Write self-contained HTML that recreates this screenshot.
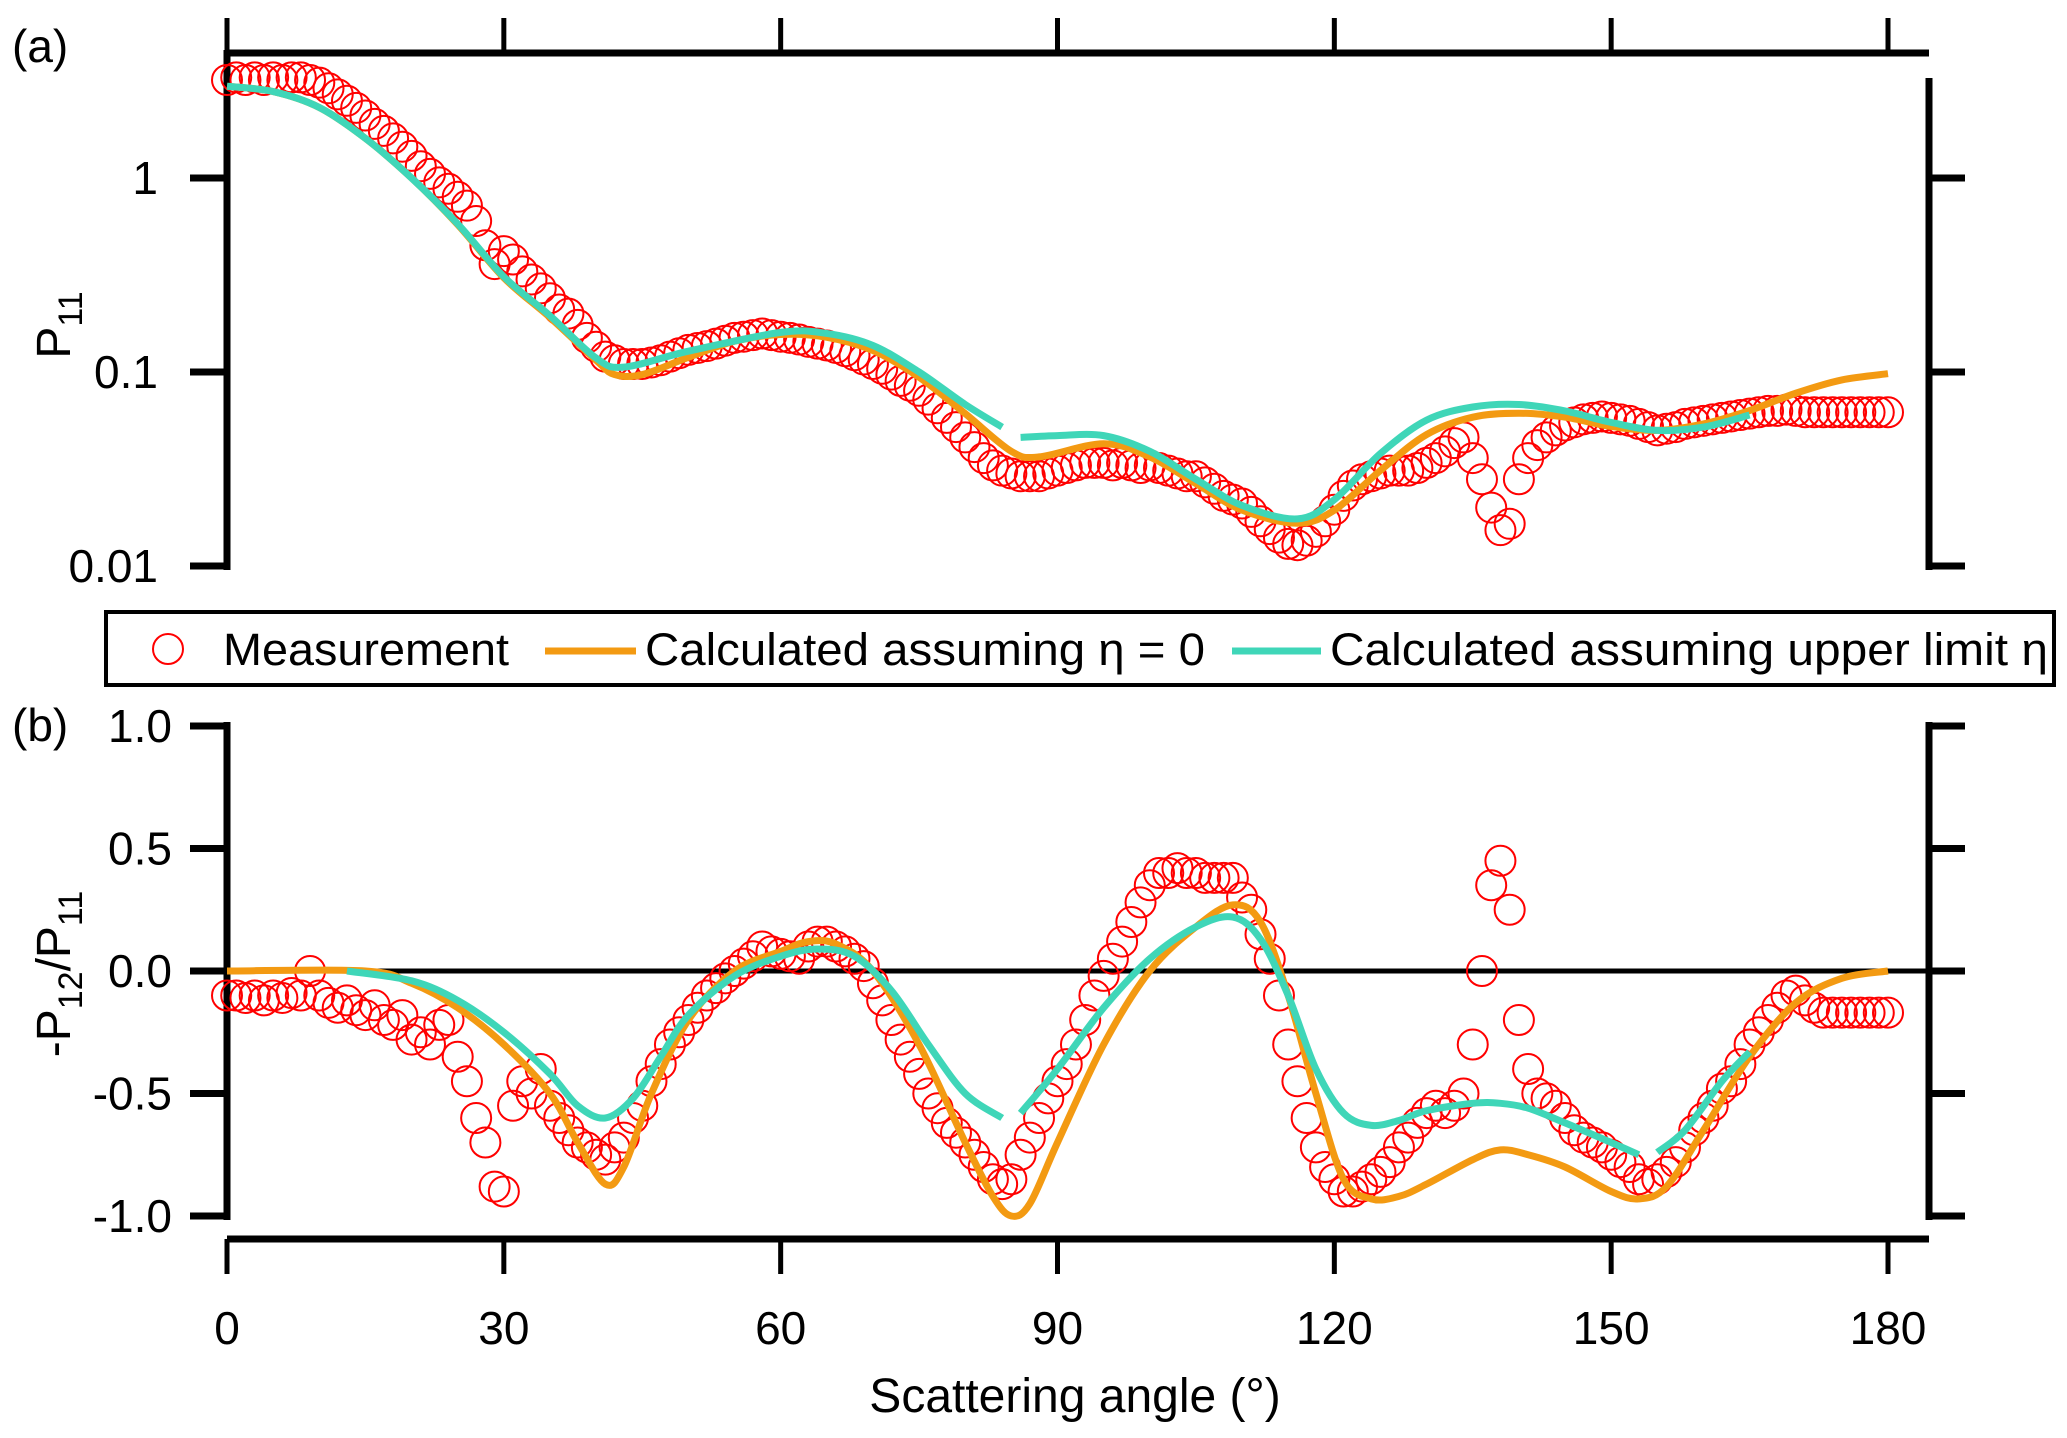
<!DOCTYPE html>
<html><head><meta charset="utf-8"><style>
html,body{margin:0;padding:0;background:#fff;}
svg{display:block;font-family:"Liberation Sans",Arial,sans-serif;}
</style></head><body>
<svg id="chart" width="2067" height="1438" viewBox="0 0 2067 1438" xmlns="http://www.w3.org/2000/svg">
<g id="axes"></g>
<g id="marks"></g>
<g id="legend">
  <rect x="106" y="612" width="1948" height="73" fill="#fff" stroke="#000" stroke-width="4"/>
  <circle cx="168" cy="649" r="15" fill="none" stroke="#ff0000" stroke-width="2"/>
  <text x="223" y="665" font-size="45" textLength="286" lengthAdjust="spacingAndGlyphs">Measurement</text>
  <line x1="545" y1="651" x2="636" y2="651" stroke="#f39a12" stroke-width="7"/>
  <text x="645" y="665" font-size="45" textLength="560" lengthAdjust="spacingAndGlyphs">Calculated assuming η = 0</text>
  <line x1="1232" y1="651" x2="1321" y2="651" stroke="#3fd6b8" stroke-width="7"/>
  <text x="1330" y="665" font-size="45" textLength="718" lengthAdjust="spacingAndGlyphs">Calculated assuming upper limit η</text>
</g>
</svg>
<script>
// ---- Data ----
const xTicks = [0, 30, 60, 90, 120, 150, 180];
const p11Ticks = [1, 0.1, 0.01];
const p11TickLabels = ["1", "0.1", "0.01"];
const p12Ticks = [1.0, 0.5, 0.0, -0.5, -1.0];
const p12TickLabels = ["1.0", "0.5", "0.0", "-0.5", "-1.0"];

const measAngles = [0,1,2,3,4,5,6,7,8,9,10,11,12,13,14,15,16,17,18,19,20,21,22,23,24,25,26,27,28,29,30,31,32,33,34,35,36,37,38,39,40,41,42,43,44,45,46,47,48,49,50,51,52,53,54,55,56,57,58,59,60,61,62,63,64,65,66,67,68,69,70,71,72,73,74,75,76,77,78,79,80,81,82,83,84,85,86,87,88,89,90,91,92,93,94,95,96,97,98,99,100,101,102,103,104,105,106,107,108,109,110,111,112,113,114,115,116,117,118,119,120,121,122,123,124,125,126,127,128,129,130,131,132,133,134,135,136,137,138,139,140,141,142,143,144,145,146,147,148,149,150,151,152,153,154,155,156,157,158,159,160,161,162,163,164,165,166,167,168,169,170,171,172,173,174,175,176,177,178,179,180];
const measP11 = [3.2,3.3,3.2,3.3,3.2,3.3,3.2,3.3,3.3,3.2,3.1,2.9,2.7,2.5,2.3,2.1,1.9,1.75,1.6,1.45,1.3,1.15,1.05,0.95,0.88,0.8,0.72,0.6,0.45,0.36,0.42,0.38,0.33,0.3,0.27,0.24,0.21,0.2,0.175,0.15,0.135,0.12,0.115,0.11,0.11,0.11,0.112,0.115,0.12,0.125,0.13,0.133,0.136,0.14,0.145,0.15,0.152,0.155,0.158,0.155,0.152,0.15,0.147,0.143,0.14,0.137,0.133,0.128,0.122,0.116,0.11,0.104,0.097,0.09,0.085,0.08,0.072,0.065,0.058,0.052,0.046,0.041,0.036,0.033,0.031,0.03,0.029,0.029,0.029,0.03,0.031,0.032,0.033,0.034,0.034,0.034,0.033,0.034,0.033,0.032,0.033,0.032,0.031,0.03,0.029,0.029,0.027,0.025,0.023,0.022,0.021,0.019,0.017,0.0155,0.014,0.013,0.0128,0.0135,0.015,0.017,0.0195,0.023,0.026,0.028,0.029,0.03,0.031,0.031,0.031,0.032,0.034,0.036,0.039,0.043,0.046,0.036,0.028,0.02,0.0153,0.0165,0.028,0.036,0.042,0.046,0.05,0.053,0.055,0.057,0.058,0.059,0.058,0.057,0.056,0.054,0.052,0.05,0.051,0.052,0.054,0.055,0.056,0.057,0.058,0.059,0.06,0.061,0.062,0.063,0.063,0.064,0.063,0.062,0.062,0.062,0.062,0.062,0.062,0.062,0.062,0.062,0.062];
const measP12 = [-0.1,-0.1,-0.11,-0.1,-0.12,-0.1,-0.11,-0.09,-0.1,0.0,-0.1,-0.13,-0.15,-0.12,-0.16,-0.18,-0.14,-0.2,-0.22,-0.18,-0.28,-0.25,-0.3,-0.22,-0.2,-0.35,-0.45,-0.6,-0.7,-0.88,-0.9,-0.55,-0.45,-0.5,-0.4,-0.55,-0.6,-0.65,-0.7,-0.72,-0.75,-0.77,-0.72,-0.68,-0.6,-0.55,-0.45,-0.38,-0.3,-0.25,-0.2,-0.15,-0.1,-0.07,-0.03,0.0,0.03,0.06,0.1,0.08,0.07,0.06,0.05,0.1,0.12,0.12,0.1,0.08,0.05,0.02,-0.05,-0.12,-0.2,-0.28,-0.35,-0.42,-0.5,-0.56,-0.62,-0.66,-0.7,-0.75,-0.8,-0.85,-0.87,-0.85,-0.75,-0.68,-0.6,-0.52,-0.45,-0.38,-0.3,-0.2,-0.1,-0.02,0.05,0.12,0.2,0.28,0.35,0.4,0.4,0.42,0.4,0.4,0.38,0.38,0.38,0.38,0.3,0.25,0.15,0.05,-0.1,-0.3,-0.45,-0.6,-0.72,-0.8,-0.85,-0.9,-0.9,-0.88,-0.85,-0.82,-0.78,-0.72,-0.68,-0.62,-0.58,-0.55,-0.58,-0.55,-0.5,-0.3,0.0,0.35,0.45,0.25,-0.2,-0.4,-0.5,-0.52,-0.55,-0.6,-0.65,-0.68,-0.7,-0.72,-0.75,-0.78,-0.8,-0.85,-0.87,-0.85,-0.82,-0.78,-0.72,-0.65,-0.6,-0.55,-0.48,-0.45,-0.38,-0.3,-0.25,-0.2,-0.15,-0.1,-0.08,-0.12,-0.15,-0.17,-0.17,-0.17,-0.17,-0.17,-0.17,-0.17,-0.17];

const eta0AnglesA = [0,5,10,15,20,25,30,35,40,42,45,50,55,60,65,70,75,80,85,88,95,100,105,110,116,120,125,130,135,140,145,150,155,160,165,170,175,180];
const eta0P11 = [2.97,2.79,2.31,1.6,1.0,0.575,0.306,0.191,0.115,0.097,0.097,0.119,0.144,0.156,0.151,0.129,0.094,0.061,0.039,0.0365,0.0427,0.0365,0.0266,0.0194,0.0166,0.0194,0.0311,0.0476,0.0585,0.0613,0.0585,0.0524,0.050,0.054,0.0633,0.0777,0.091,0.098];
const upperAnglesA1 = [0,5,10,15,20,25,30,35,40,43,50,60,65,70,75,80,84];
const upperP11a = [2.97,2.79,2.31,1.6,1.0,0.58,0.31,0.195,0.118,0.106,0.128,0.16,0.158,0.137,0.1,0.068,0.052];
const upperAnglesA2 = [86,90,95,100,105,110,116,120,125,130,135,140,145,150,155,160,165];
const upperP11b = [0.046,0.047,0.047,0.039,0.028,0.0205,0.0175,0.022,0.038,0.0565,0.066,0.068,0.063,0.055,0.05,0.052,0.06];

const eta0AnglesB = [0,15,20,25,30,35,38,41,43,46,50,55,60,63,66,70,75,80,83,85,87,90,95,100,105,109,112,115,118,121,124,127,130,135,138,141,145,150,153,156,160,165,170,175,180];
const eta0P12 = [0,0,-0.05,-0.15,-0.3,-0.5,-0.7,-0.87,-0.8,-0.5,-0.2,0.0,0.08,0.12,0.11,0.0,-0.3,-0.7,-0.92,-1.0,-0.95,-0.7,-0.3,0.0,0.18,0.27,0.2,-0.1,-0.5,-0.85,-0.93,-0.92,-0.87,-0.77,-0.73,-0.75,-0.8,-0.9,-0.93,-0.88,-0.65,-0.35,-0.13,-0.03,0];
const upperAnglesB1 = [13,20,25,30,35,38,41,44,47,50,55,60,64,68,72,76,80,84];
const upperP12a = [0,-0.04,-0.12,-0.25,-0.42,-0.55,-0.6,-0.52,-0.35,-0.18,-0.02,0.06,0.09,0.06,-0.08,-0.3,-0.5,-0.6];
const upperAnglesB2 = [86,90,95,100,105,109,112,115,118,121,124,127,130,135,138,141,145,150,153];
const upperP12b = [-0.58,-0.4,-0.15,0.05,0.18,0.22,0.13,-0.1,-0.4,-0.58,-0.63,-0.61,-0.57,-0.54,-0.54,-0.56,-0.62,-0.7,-0.75];
const upperAnglesB3 = [155,158,162,165];
const upperP12c = [-0.74,-0.65,-0.45,-0.33];

// ---- Scales ----
const X0 = 227, X1 = 1888, XR = 1929;
function xs(a){ return X0 + (a/180)*(X1-X0); }
function ysTop(v){ return 372 - (Math.log10(v)+1)*194; }
function ysBot(v){ return 971 - v*245; }

const NS = "http://www.w3.org/2000/svg";
const axes = document.getElementById('axes');
const marks = document.getElementById('marks');
function mk(tag, attrs, parent){ const e=document.createElementNS(NS,tag); for(const k in attrs) e.setAttribute(k, attrs[k]); parent.appendChild(e); return e; }

function smoothPath(xsArr, ysArr){
  const p = xsArr.map((x,i)=>[x, ysArr[i]]);
  let d = `M${p[0][0]},${p[0][1]}`;
  for(let i=0;i<p.length-1;i++){
    const p0=p[Math.max(0,i-1)], p1=p[i], p2=p[i+1], p3=p[Math.min(p.length-1,i+2)];
    const c1x=p1[0]+(p2[0]-p0[0])/6, c1y=p1[1]+(p2[1]-p0[1])/6;
    const c2x=p2[0]-(p3[0]-p1[0])/6, c2y=p2[1]-(p3[1]-p1[1])/6;
    d += ` C${c1x},${c1y} ${c2x},${c2y} ${p2[0]},${p2[1]}`;
  }
  return d;
}

const AX = {stroke:'#000','stroke-width':7,'stroke-linecap':'butt'};
let e;
e = mk('line',Object.assign({x1:X0,y1:53,x2:XR,y2:53},AX),axes);
 
e = mk('line',Object.assign({x1:X0,y1:50,x2:X0,y2:570},AX),axes);
 
e = mk('line',Object.assign({x1:XR,y1:78,x2:XR,y2:570},AX),axes);
 
xTicks.forEach(t=>{
  const l = mk('line',Object.assign({x1:xs(t),y1:18,x2:xs(t),y2:53},AX,{'stroke-width':5}),axes);
   
});
p11Ticks.forEach((t,i)=>{
  const y = ysTop(t);
  const l = mk('line',Object.assign({x1:190,y1:y,x2:X0,y2:y},AX),axes);
   
  const r = mk('line',Object.assign({x1:XR,y1:y,x2:XR+36,y2:y},AX),axes);
   
  const tx = mk('text',{x:158,y:y+16,'font-size':46,'text-anchor':'end'},axes);
  tx.textContent = p11TickLabels[i];
   
});
e = mk('line',Object.assign({x1:X0,y1:722,x2:X0,y2:1220},AX),axes);
 
e = mk('line',Object.assign({x1:XR,y1:722,x2:XR,y2:1220},AX),axes);
 
e = mk('line',Object.assign({x1:X0,y1:1239,x2:XR,y2:1239},AX),axes);
 
e = mk('line',Object.assign({x1:X0,y1:ysBot(0),x2:XR,y2:ysBot(0)},AX,{'stroke-width':5}),axes);
 
xTicks.forEach(t=>{
  const l = mk('line',Object.assign({x1:xs(t),y1:1239,x2:xs(t),y2:1274},AX,{'stroke-width':5}),axes);
   
  const tx = mk('text',{x:xs(t),y:1344,'font-size':46,'text-anchor':'middle'},axes);
  tx.textContent = String(t);
   
});
p12Ticks.forEach((t,i)=>{
  const y = ysBot(t);
  const l = mk('line',Object.assign({x1:190,y1:y,x2:X0,y2:y},AX),axes);
   
  const r = mk('line',Object.assign({x1:XR,y1:y,x2:XR+36,y2:y},AX),axes);
   
  const tx = mk('text',{x:172,y:y+16,'font-size':46,'text-anchor':'end'},axes);
  tx.textContent = p12TickLabels[i];
   
});
e = mk('text',{x:12,y:62,'font-size':46},axes); e.textContent='(a)';
 
e = mk('text',{x:12,y:741,'font-size':46},axes); e.textContent='(b)';
 
e = mk('text',{x:1075,y:1412,'font-size':48,'text-anchor':'middle'},axes); e.textContent='Scattering angle (°)';
 
e = mk('text',{x:0,y:0,'font-size':48,'text-anchor':'middle',transform:'translate(70,325) rotate(-90)'},axes);
e.innerHTML='P<tspan font-size="34" dy="12">11</tspan>';
 
e = mk('text',{x:0,y:0,'font-size':48,'text-anchor':'middle',transform:'translate(70,974) rotate(-90)'},axes);
e.innerHTML='-P<tspan font-size="34" dy="12">12</tspan><tspan dy="-12">/P</tspan><tspan font-size="34" dy="12">11</tspan>';
 

// ---- Marks ----
measAngles.forEach((a,i)=>{
  const c = mk('circle',{cx:xs(a),cy:ysTop(measP11[i]),r:15,fill:'none',stroke:'#ff0000','stroke-width':2},marks);
   
});
measAngles.forEach((a,i)=>{
  const c = mk('circle',{cx:xs(a),cy:ysBot(measP12[i]),r:15,fill:'none',stroke:'#ff0000','stroke-width':2},marks);
   
});
function line(angles, vals, yf, color, name){
  const p = mk('path',{d:smoothPath(angles.map(xs), vals.map(yf)),fill:'none',stroke:color,'stroke-width':7,'stroke-linejoin':'round'},marks);
  
  
}
line(eta0AnglesA, eta0P11, ysTop, '#f39a12', 'eta0-line-a');
line(upperAnglesA1, upperP11a, ysTop, '#3fd6b8', 'upper-line-a');
line(upperAnglesA2, upperP11b, ysTop, '#3fd6b8', 'upper-line-a');
line(eta0AnglesB, eta0P12, ysBot, '#f39a12', 'eta0-line-b');
line(upperAnglesB1, upperP12a, ysBot, '#3fd6b8', 'upper-line-b');
line(upperAnglesB2, upperP12b, ysBot, '#3fd6b8', 'upper-line-b');
line(upperAnglesB3, upperP12c, ysBot, '#3fd6b8', 'upper-line-b');
</script>
</body></html>
